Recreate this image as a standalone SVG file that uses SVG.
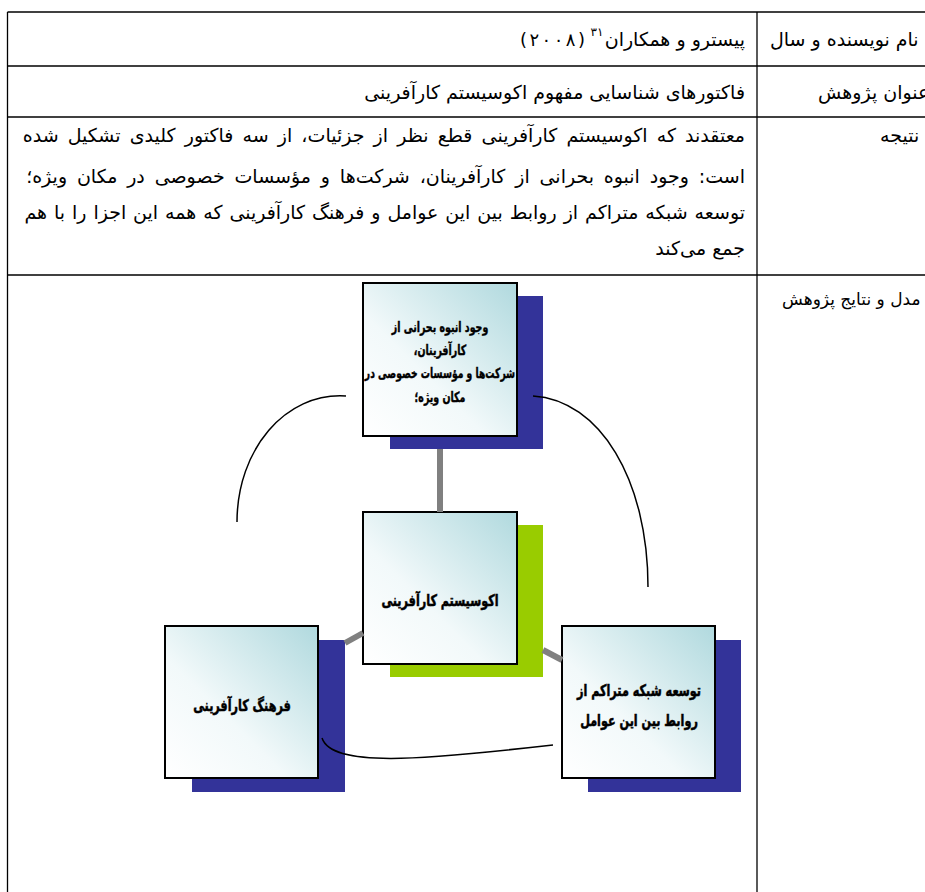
<svg xmlns="http://www.w3.org/2000/svg" width="925" height="892" viewBox="0 0 925 892">
<defs>
<linearGradient id="g" x1="0" y1="1" x2="1" y2="0">
<stop offset="0" stop-color="#ffffff"/>
<stop offset="0.4" stop-color="#f2f9fa"/>
<stop offset="1" stop-color="#b0d9de"/>
</linearGradient>
<style>
.t{font-family:"DejaVu Sans",sans-serif;font-size:19px;fill:#000;direction:rtl}
.h{font-family:"DejaVu Sans",sans-serif;font-size:19px;fill:#000;direction:rtl}
.b{font-family:"DejaVu Sans Condensed","DejaVu Sans",sans-serif;font-stretch:condensed;font-size:16px;font-weight:bold;fill:#000;stroke:#000;stroke-width:0.5;direction:rtl;text-anchor:middle}
.s{font-size:14px;stroke-width:0.4}
.line{stroke:#000;stroke-width:1.3;fill:none}
.box{fill:url(#g);stroke:#000;stroke-width:2}
.navy{fill:#333399}
.green{fill:#99cc00}
.gray{stroke:#808080;stroke-width:6;fill:none}
.curve{stroke:#000;stroke-width:1.5;fill:none}
</style>
</defs>
<rect width="925" height="892" fill="#fff"/>
<g id="table">
<line class="line" x1="7.5" y1="12" x2="925" y2="12"/>
<line class="line" x1="7.5" y1="66" x2="925" y2="66"/>
<line class="line" x1="7.5" y1="117" x2="925" y2="117"/>
<line class="line" x1="7.5" y1="275" x2="925" y2="275"/>
<line class="line" x1="7.5" y1="12" x2="7.5" y2="892"/>
<line class="line" x1="757" y1="12" x2="757" y2="892"/>
</g>
<g id="labels">
<text class="h" x="770" y="46" text-anchor="end">نام نویسنده و سال</text>
<text class="h" x="818" y="99" text-anchor="end">عنوان پژوهش</text>
<text class="h" x="880" y="142" text-anchor="end">نتیجه</text>
<text class="h" x="782" y="305" text-anchor="end" style="font-size:17px">مدل و نتایج پژوهش</text>
</g>
<g id="cells">
<text class="t" x="745" y="46" text-anchor="start">پیسترو و همکاران</text>
<text x="597" y="36" style="font-family:'DejaVu Sans',sans-serif;font-size:12px" text-anchor="middle">۳۱</text>
<text x="520" y="46" style="font-family:'DejaVu Sans',sans-serif;font-size:18px" textLength="65" lengthAdjust="spacing">(۲۰۰۸)</text>
<text class="t" x="745" y="99" text-anchor="start">فاکتورهای شناسایی مفهوم اکوسیستم کارآفرینی</text>
<text class="t" x="745" y="142" text-anchor="start" style="word-spacing:3.1px">معتقدند که اکوسیستم کارآفرینی قطع نظر از جزئیات، از سه فاکتور کلیدی تشکیل شده</text>
<text class="t" x="745" y="183" text-anchor="start" style="word-spacing:3.8px">است: وجود انبوه بحرانی از کارآفرینان، شرکت‌ها و مؤسسات خصوصی در مکان ویژه؛</text>
<text class="t" x="745" y="219" text-anchor="start" style="word-spacing:0.9px">توسعه شبکه متراکم از روابط بین این عوامل و فرهنگ کارآفرینی که همه این اجزا را با هم</text>
<text class="t" x="745" y="255" text-anchor="start">جمع می‌کند</text>
</g>
<g id="node-top">
<rect class="navy" x="390" y="296" width="153" height="153"/>
<rect class="box" x="363" y="283" width="154" height="153"/>
<text class="b s" transform="translate(440,332) scale(0.75,1)">وجود انبوه بحرانی از</text>
<text class="b s" transform="translate(440,355) scale(0.75,1)">کارآفرینان،</text>
<text class="b s" transform="translate(440,378) scale(0.73,1)">شرکت‌ها و مؤسسات خصوصی در</text>
<text class="b s" transform="translate(440,402) scale(0.75,1)">مکان ویژه؛</text>
</g>
<g id="node-center">
<rect class="green" x="390" y="525" width="153" height="152"/>
<rect class="box" x="363" y="512" width="154" height="152"/>
<text class="b" transform="translate(440,606) scale(0.78,1)">اکوسیستم کارآفرینی</text>
</g>
<g id="node-left">
<rect class="navy" x="192" y="640" width="153" height="152"/>
<rect class="box" x="165" y="626" width="153" height="152"/>
<text class="b" transform="translate(242,711) scale(0.78,1)">فرهنگ کارآفرینی</text>
</g>
<g id="node-right">
<rect class="navy" x="588" y="640" width="153" height="152"/>
<rect class="box" x="562" y="626" width="153" height="152"/>
<text class="b" transform="translate(639,696) scale(0.78,1)">توسعه شبکه متراکم از</text>
<text class="b" transform="translate(639,726) scale(0.78,1)">روابط بین این عوامل</text>
</g>
<g id="connectors">
<line class="gray" x1="440" y1="449" x2="440" y2="512"/>
<line class="gray" x1="363" y1="633" x2="345" y2="643"/>
<line class="gray" x1="543" y1="650" x2="562" y2="660"/>
<path class="curve" d="M346 396 C285 392 237 450 237 522"/>
<path class="curve" d="M533 396 C600 400 648 480 648 587"/>
<path class="curve" d="M322 738 C332 768 420 760 553 745"/>
</g>
</svg>
